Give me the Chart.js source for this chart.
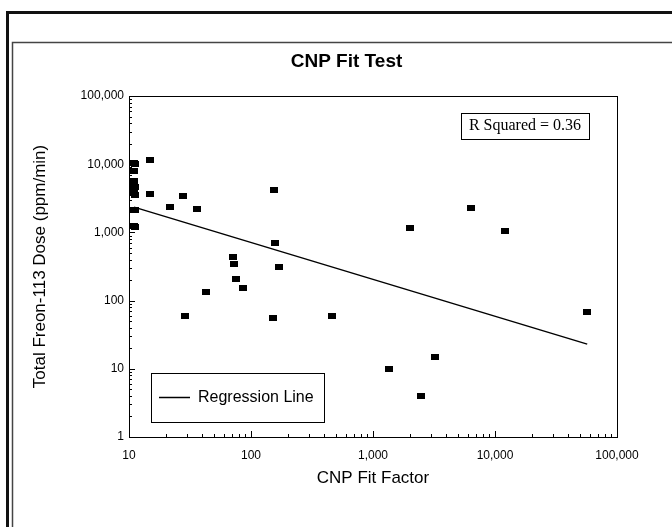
<!DOCTYPE html>
<html>
<head>
  <script src="https://cdn.jsdelivr.net/npm/chart.js"></script>
  <title>CNP Fit Test</title>
  <style>
    body { margin: 0; background: #fff; }
  </style>
</head>
<body>
  <canvas id="myChart" width="672" height="527"></canvas>

  <script>
    /** data **/
    const fitFactor = [11, 11.2, 11, 11, 11, 11.2, 11, 11, 11.2, 11, 11.2, 11, 11.2,
      15, 15, 21.7, 27.7, 36, 28.8, 42.8, 71, 72.6, 75, 86,
      154, 157, 170, 151, 461, 1353, 2010, 2470, 3220, 6360, 12080, 56800];
    const freonDose = [10500, 10200, 7900, 5700, 5000, 4600, 4300, 3800, 3500, 2150, 2100, 1250, 1200,
      11500, 3700, 2360, 3420, 2200, 59, 134, 436, 344, 207, 153,
      4190, 700, 311, 56, 59, 10, 1160, 4, 15, 2280, 1050, 68];
    const regressionX = [11, 57000];
    const regressionY = [2350, 23];
    const xTickValues = [10, 100, 1000, 10000, 100000];
    const yTickValues = [1, 10, 100, 1000, 10000, 100000];
    const rSquaredText = 'R Squared = 0.36';

    // small black rectangle used as marker
    const marker = document.createElement('canvas');
    marker.width = 8;
    marker.height = 6;
    const mctx = marker.getContext('2d');
    mctx.fillStyle = '#000';
    mctx.fillRect(0, 0, 8, 6);

    const points = fitFactor.map((x, i) => ({ x: x, y: freonDose[i] }));
    const regression = regressionX.map((x, i) => ({ x: x, y: regressionY[i] }));

    // frames, plot box, inward ticks, legend box and R squared box
    const decorations = {
      id: 'decorations',
      beforeDraw(chart) {
        const c = chart.ctx;
        c.save();
        c.fillStyle = '#fff';
        c.fillRect(0, 0, chart.width, chart.height);
        c.strokeStyle = '#111';
        c.lineWidth = 3;
        c.beginPath();
        c.moveTo(7.5, chart.height);
        c.lineTo(7.5, 12.5);
        c.lineTo(chart.width, 12.5);
        c.stroke();
        c.strokeStyle = '#444';
        c.lineWidth = 1.5;
        c.beginPath();
        c.moveTo(12.5, chart.height);
        c.lineTo(12.5, 42.5);
        c.lineTo(chart.width, 42.5);
        c.stroke();
        c.restore();
      },
      afterDraw(chart) {
        const c = chart.ctx;
        const a = chart.chartArea;
        const xs = chart.scales.x;
        const ys = chart.scales.y;
        c.save();
        c.strokeStyle = '#000';
        c.lineWidth = 1;
        c.strokeRect(Math.round(a.left) + 0.5, Math.round(a.top) + 0.5,
          Math.round(a.right - a.left), Math.round(a.bottom - a.top));

        // inward ticks on log axes
        c.beginPath();
        for (let d = 10; d < 100000; d *= 10) {
          for (let m = 1; m <= 10; m++) {
            const px = Math.round(xs.getPixelForValue(d * m)) + 0.5;
            const len = (m === 1 || m === 10) ? 6 : 3;
            c.moveTo(px, a.bottom);
            c.lineTo(px, a.bottom - len);
          }
        }
        for (let d = 1; d < 100000; d *= 10) {
          for (let m = 1; m <= 10; m++) {
            const py = Math.round(ys.getPixelForValue(d * m)) + 0.5;
            const len = (m === 1 || m === 10) ? 6 : 3;
            c.moveTo(a.left, py);
            c.lineTo(a.left + len, py);
          }
        }
        c.stroke();

        // R squared box
        c.font = '16px "Liberation Serif", "Times New Roman", serif';
        c.textBaseline = 'middle';
        c.textAlign = 'center';
        const rw = c.measureText(rSquaredText).width + 16;
        const rRight = a.right - 28;
        const rTop = a.top + 17;
        c.fillStyle = '#fff';
        c.fillRect(rRight - rw, rTop, rw, 26);
        c.strokeRect(Math.round(rRight - rw) + 0.5, rTop + 0.5, Math.round(rw), 26);
        c.fillStyle = '#000';
        c.fillText(rSquaredText, rRight - rw / 2, rTop + 13);

        // legend box
        const label = chart.data.datasets[1].label;
        c.font = '16px Arial, "Liberation Sans", sans-serif';
        c.textAlign = 'left';
        const lx = Math.round(a.left + 22);
        const lb = Math.round(a.bottom - 15);
        const lw = 173;
        const lh = 49;
        c.fillStyle = '#fff';
        c.fillRect(lx, lb - lh, lw, lh);
        c.strokeRect(lx + 0.5, lb - lh + 0.5, lw, lh);
        c.beginPath();
        c.moveTo(lx + 8, lb - 24.5);
        c.lineTo(lx + 39, lb - 24.5);
        c.lineWidth = 1.5;
        c.stroke();
        c.fillStyle = '#000';
        c.fillText(label, lx + 47, lb - 24);
        c.restore();
      }
    };

    const ctx = document.getElementById('myChart').getContext('2d');
    const chart = new Chart(ctx, {
      type: 'scatter',
      data: {
        datasets: [{
          label: 'Fit test',
          data: points,
          pointStyle: marker,
          pointRadius: 4,
          showLine: false
        }, {
          label: 'Regression Line',
          data: regression,
          type: 'line',
          showLine: true,
          borderColor: '#000',
          borderWidth: 1.5,
          pointRadius: 0,
          fill: false
        }]
      },
      options: {
        responsive: false,
        animation: false,
        // left padding only shifts the title centre; the y axis keeps its full width below
        layout: { padding: { left: 76, right: 55, top: 0, bottom: 0 } },
        plugins: {
          legend: { display: false },
          tooltip: { enabled: false },
          title: {
            display: true,
            text: 'CNP Fit Test',
            color: '#000',
            font: { family: 'Arial, "Liberation Sans", sans-serif', size: 19, weight: 'bold' },
            padding: { top: 50.6, bottom: 22.6 }
          }
        },
        scales: {
          x: {
            type: 'logarithmic',
            min: 10,
            max: 100000,
            afterBuildTicks: (s) => { s.ticks = xTickValues.map(v => ({ value: v })); },
            afterFit: (s) => { s.height = 90; },
            grid: { drawOnChartArea: false, drawTicks: false },
            border: { display: false },
            ticks: {
              color: '#000',
              padding: 11,
              maxRotation: 0,
              font: { family: 'Arial, "Liberation Sans", sans-serif', size: 12 },
              callback: (v) => Number(v).toLocaleString('en-US')
            },
            title: {
              display: true,
              text: 'CNP Fit Factor',
              color: '#000',
              font: { family: 'Arial, "Liberation Sans", sans-serif', size: 17 },
              padding: { top: 0, bottom: 38 }
            }
          },
          y: {
            type: 'logarithmic',
            min: 1,
            max: 100000,
            afterBuildTicks: (s) => { s.ticks = yTickValues.map(v => ({ value: v })); },
            afterFit: (s) => { s.width = 53; },
            grid: { drawOnChartArea: false, drawTicks: false },
            border: { display: false },
            ticks: {
              color: '#000',
              padding: 5,
              font: { family: 'Arial, "Liberation Sans", sans-serif', size: 12 },
              callback: (v) => Number(v).toLocaleString('en-US')
            },
            title: {
              display: true,
              text: 'Total Freon-113 Dose (ppm/min)',
              color: '#000',
              font: { family: 'Arial, "Liberation Sans", sans-serif', size: 17 },
              padding: { top: -45.6, bottom: 0 }
            }
          }
        }
      },
      plugins: [decorations]
    });
  </script>
</body>
</html>
